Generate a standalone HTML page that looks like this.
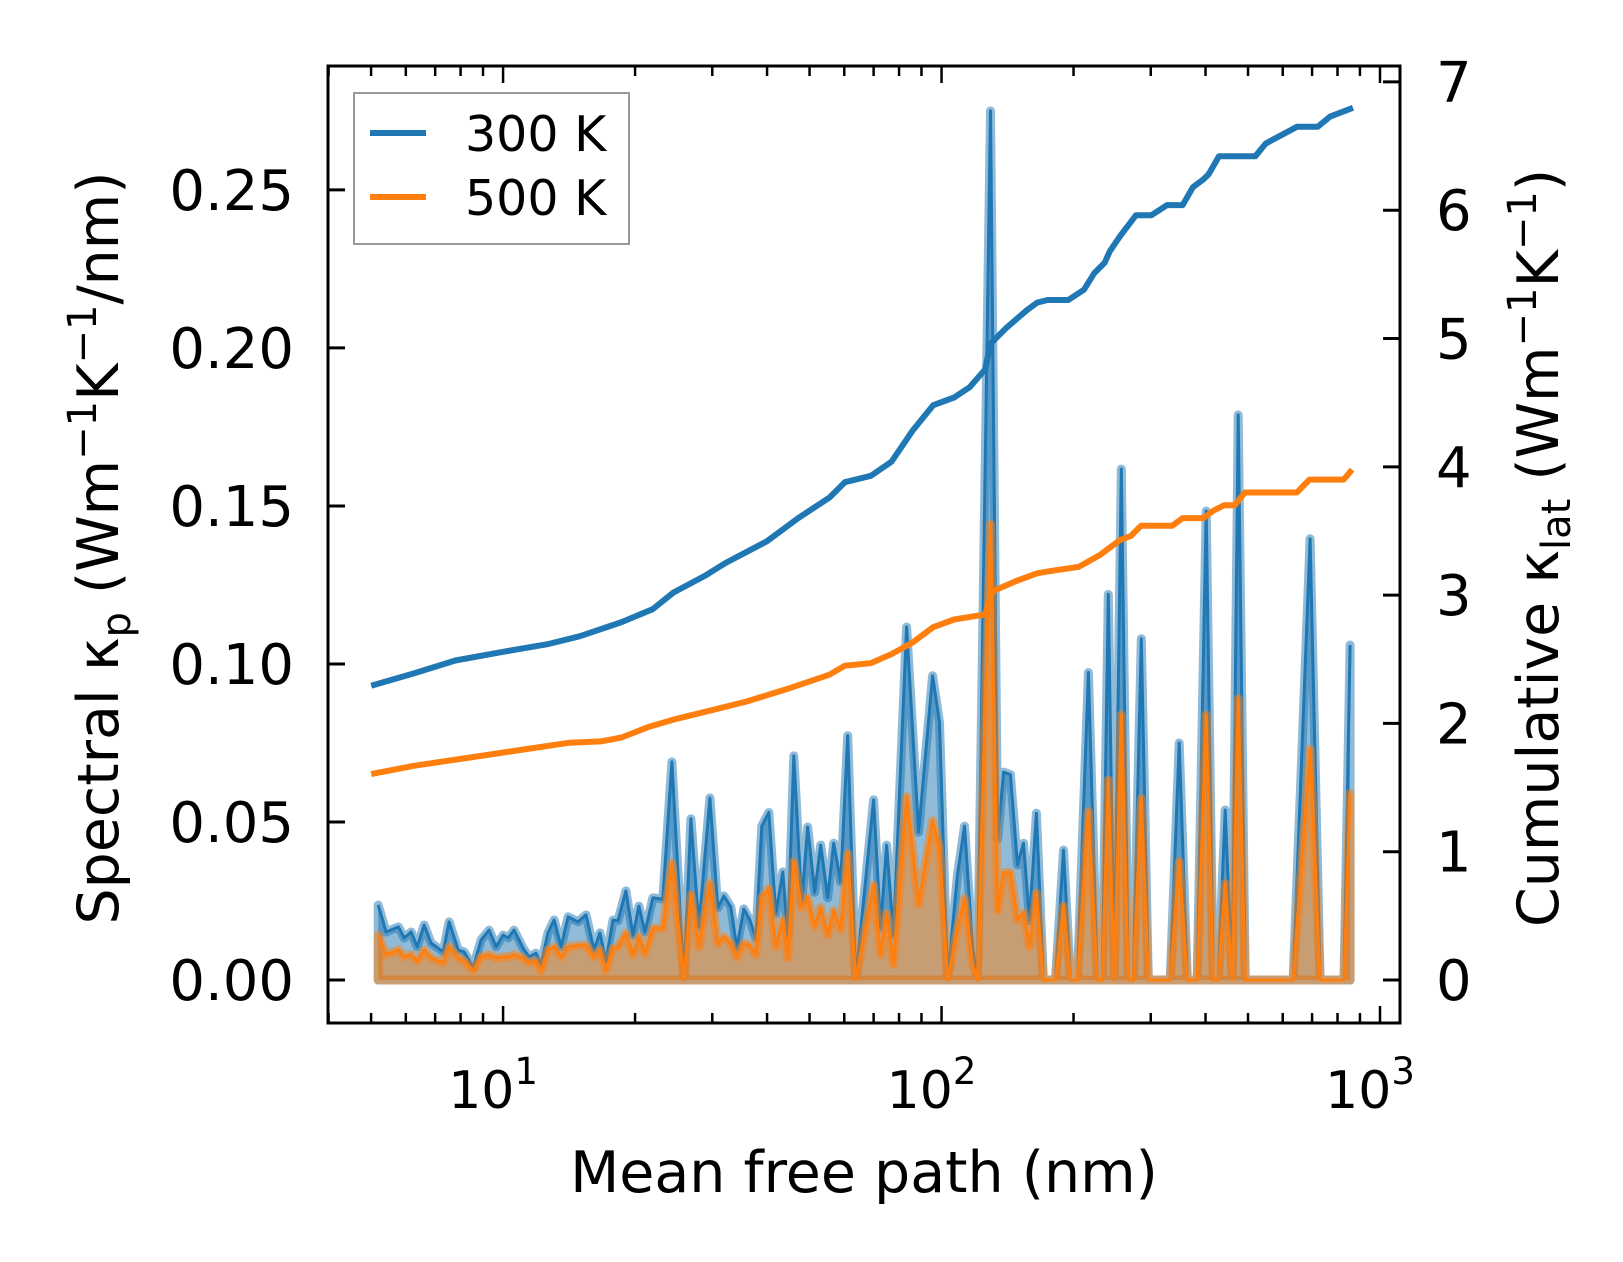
<!DOCTYPE html>
<html><head><meta charset="utf-8"><style>
html,body{margin:0;padding:0;background:#fff;}
svg{display:block;font-family:"DejaVu Sans","Liberation Sans",sans-serif;}
</style></head><body>
<svg id="chart" width="1623" height="1262" viewBox="0 0 1623 1262" xmlns="http://www.w3.org/2000/svg">
<rect width="1623" height="1262" fill="#fff"/>
<g id="plot"></g>
<g id="axes"></g>
</svg>
<script>
// ---- data ----
const specMfp = [5.19,5.41,5.77,5.95,6.17,6.37,6.61,6.85,7.30,7.53,7.90,8.15,8.55,8.91,9.29,9.64,10.0,10.27,10.59,11.10,11.46,11.89,12.21,12.66,13.07,13.56,14.07,14.82,15.46,16.12,16.63,17.17,17.81,18.28,19.06,19.78,20.41,21.06,21.96,23.14,24.27,25.84,26.81,27.96,29.62,30.89,31.88,33.07,34.12,35.40,36.53,37.70,38.90,40.36,41.88,43.44,44.60,46.03,47.99,49.52,51.37,53.02,55.0,56.75,58.88,61.08,63.70,69.99,72.61,74.93,77.72,83.23,88.64,95.39,98.95,103.2,108.7,112.8,117.7,120.8,129.3,134.2,138.5,143.6,149.0,153.8,158.7,164.6,170.7,181.9,189.7,196.8,204.1,216.2,226.6,232.6,240.1,247.8,257.0,266.7,273.8,285.5,296.2,332.3,348.4,363.4,382.9,401.4,416.4,427.5,443.6,460.2,474.9,492.7,633.6,692.7,730.0,773.4,827.9,854.5];
const spec300 = [0.0237,0.0152,0.0168,0.0133,0.0152,0.0105,0.0174,0.0117,0.0089,0.0184,0.0095,0.0089,0.004,0.0127,0.0158,0.0105,0.0142,0.0133,0.0158,0.0101,0.0073,0.0085,0.005,0.0149,0.019,0.0105,0.020,0.0184,0.0206,0.0095,0.0149,0.006,0.019,0.0187,0.0282,0.0142,0.0234,0.0152,0.026,0.0256,0.069,0.0,0.051,0.0168,0.0576,0.0228,0.0266,0.0231,0.0101,0.0225,0.019,0.0133,0.0487,0.053,0.021,0.0342,0.0136,0.0709,0.0244,0.0484,0.0278,0.0427,0.026,0.0433,0.031,0.0773,0.0,0.057,0.0165,0.0427,0.0142,0.1117,0.0468,0.0963,0.0815,0.0,0.033,0.0487,0.0104,0.0,0.275,0.0446,0.0658,0.065,0.0364,0.0433,0.0188,0.0528,0.0,0.0,0.0411,0.0,0.0,0.0973,0.0,0.0,0.122,0.0,0.1617,0.0,0.0,0.108,0.0,0.0,0.075,0.0,0.0,0.1484,0.0,0.0,0.0538,0.0,0.1788,0.0,0.0,0.1396,0.0,0.0,0.0,0.106];
const spec500 = [0.0142,0.008,0.0095,0.0073,0.008,0.006,0.0095,0.007,0.0055,0.0105,0.007,0.006,0.003,0.0073,0.008,0.007,0.0073,0.0073,0.008,0.007,0.0055,0.006,0.003,0.0095,0.0105,0.0073,0.0105,0.011,0.011,0.0073,0.0095,0.003,0.010,0.0105,0.0148,0.008,0.0137,0.0085,0.0164,0.0164,0.037,0.0,0.027,0.0105,0.0307,0.0116,0.0137,0.0116,0.0073,0.0116,0.011,0.008,0.026,0.029,0.0105,0.019,0.007,0.0374,0.023,0.026,0.017,0.023,0.0142,0.022,0.016,0.040,0.0,0.030,0.008,0.021,0.005,0.058,0.024,0.0504,0.042,0.0,0.016,0.0258,0.005,0.0,0.1443,0.022,0.034,0.034,0.019,0.0213,0.0106,0.0275,0.0,0.0,0.0234,0.0,0.0,0.0533,0.0,0.0,0.0633,0.0,0.0839,0.0,0.0,0.0574,0.0,0.0,0.0375,0.0,0.0,0.0839,0.0,0.0,0.0305,0.0,0.089,0.0,0.0,0.073,0.0,0.0,0.0,0.059];
const cumMfp300 = [5.08,6.26,7.78,9.68,12.72,14.97,18.63,21.94,24.47,28.83,32.15,39.99,47.1,55.5,60.2,69.0,76.9,85.8,95.7,106.8,115.9,125.8,129.3,140.3,156.4,165.2,174.5,194.6,211.2,223.0,235.5,242.0,255.6,277.5,301.1,326.8,354.7,374.6,395.6,406.5,429.3,519.5,548.7,646.3,720.9,769.6,855];
const cum300 = [2.30,2.39,2.49,2.55,2.62,2.68,2.79,2.89,3.02,3.15,3.25,3.42,3.60,3.76,3.88,3.93,4.04,4.28,4.48,4.54,4.62,4.76,4.96,5.08,5.22,5.28,5.30,5.30,5.38,5.51,5.59,5.68,5.80,5.96,5.96,6.04,6.04,6.18,6.24,6.28,6.42,6.42,6.52,6.65,6.65,6.73,6.79];
const cumMfp500 = [5.08,6.26,8.22,10.8,14.18,16.7,18.63,21.35,24.47,28.83,35.85,44.6,55.5,60.2,69.0,76.9,85.8,95.7,106.8,125.8,130.7,148.1,165.2,179.3,205.5,229.2,255.6,270.0,285.1,335.8,354.7,395.6,417.8,441.1,465.8,491.9,646.3,690.1,826.3,855];
const cum500 = [1.61,1.67,1.73,1.79,1.85,1.86,1.89,1.97,2.03,2.09,2.17,2.27,2.38,2.45,2.47,2.54,2.63,2.75,2.81,2.85,3.03,3.11,3.17,3.19,3.22,3.31,3.43,3.46,3.54,3.54,3.60,3.60,3.66,3.70,3.70,3.80,3.80,3.90,3.90,3.96];
const leftTicks = [0.00,0.05,0.10,0.15,0.20,0.25];
const leftTickLabels = ["0.00","0.05","0.10","0.15","0.20","0.25"];
const rightTicks = [0,1,2,3,4,5,6,7];
const xDecades = [1,2,3];

// ---- scales ----
const L=328,R=1400,T=66,B=1023;
const xLogMin=0.6007, xLogMax=3.0456;
function xs(v){return L+(Math.log10(v)-xLogMin)/(xLogMax-xLogMin)*(R-L);}
const yLmin=-0.0136,yLmax=0.2892;
function yl(v){return B-(v-yLmin)/(yLmax-yLmin)*(B-T);}
const yRmin=-0.335,yRmax=7.124;
function yr(v){return B-(v-yRmin)/(yRmax-yRmin)*(B-T);}

const NS="http://www.w3.org/2000/svg";
const plot=document.getElementById('plot'), axes=document.getElementById('axes');
function mk(tag,attrs,parent){const e=document.createElementNS(NS,tag);for(const k in attrs)e.setAttribute(k,attrs[k]);parent.appendChild(e);return e;}

const C0="#1f77b4",C1="#ff7f0e";
function spectral(vals,color,name){
  let line="";
  specMfp.forEach((m,i)=>{line+=(i?"L":"M")+xs(m).toFixed(1)+","+yl(vals[i]).toFixed(1);});
  const area=line+"L"+xs(specMfp[specMfp.length-1]).toFixed(1)+","+yl(0)+"L"+xs(specMfp[0]).toFixed(1)+","+yl(0)+"Z";
  const f=mk('path',{d:area,fill:color,'fill-opacity':0.5,stroke:color,'stroke-opacity':0.5,'stroke-width':9,'stroke-linejoin':'round'},plot);
  
  
  const l=mk('path',{d:line,fill:'none',stroke:color,'stroke-width':3,'stroke-linejoin':'round'},plot);
  
  
}
spectral(spec300,C0,'spectral-300k');
spectral(spec500,C1,'spectral-500k');

function cum(mfp,vals,color,name){
  let d="";
  mfp.forEach((m,i)=>{d+=(i?"L":"M")+xs(m).toFixed(1)+","+yr(vals[i]).toFixed(1);});
  const p=mk('path',{d:d,fill:'none',stroke:color,'stroke-width':6,'stroke-linejoin':'round','stroke-linecap':'square'},plot);
  
  
}
cum(cumMfp300,cum300,C0,'cumulative-300k');
cum(cumMfp500,cum500,C1,'cumulative-500k');

// spines
const frame=mk('rect',{x:L,y:T,width:R-L,height:B-T,fill:'none',stroke:'#000','stroke-width':3},axes);



// left ticks
leftTicks.forEach((v,i)=>{
  const y=yl(v);
  mk('line',{x1:L,x2:L+17,y1:y,y2:y,stroke:'#000','stroke-width':3},axes);
  const t=mk('text',{x:L-34,y:y+20,'text-anchor':'end','font-size':56},axes);
  t.textContent=leftTickLabels[i];
  
  
});
// right ticks
rightTicks.forEach(v=>{
  const y=yr(v);
  mk('line',{x1:R-17,x2:R,y1:y,y2:y,stroke:'#000','stroke-width':3},axes);
  const t=mk('text',{x:R+36,y:y+20,'text-anchor':'start','font-size':56},axes);
  t.textContent=String(v);
  
  
});
// x ticks (log)
for(let d=0; d<=3; d++){
  for(let k=1;k<10;k++){
    const v=k*Math.pow(10,d);
    const lv=Math.log10(v);
    if(lv<xLogMin||lv>xLogMax) continue;
    const x=xs(v), len=(k===1)?17:10;
    mk('line',{x1:x,x2:x,y1:B,y2:B-len,stroke:'#000','stroke-width':2.5},axes);
    mk('line',{x1:x,x2:x,y1:T,y2:T+len,stroke:'#000','stroke-width':2.5},axes);
  }
}
xDecades.forEach(p=>{
  const x=xs(Math.pow(10,p));
  const t=mk('text',{x:x-10,y:1108,'text-anchor':'middle','font-size':52},axes);
  t.textContent="10";
  const s=mk('tspan',{dy:-24,'font-size':37},t);
  s.textContent=String(p);
  
  
});
</script>
<svg style="position:absolute;left:0;top:0" width="1623" height="1262" xmlns="http://www.w3.org/2000/svg">
<g><text x="864" y="1192" text-anchor="middle" font-size="57" font-family="DejaVu Sans, Liberation Sans, sans-serif">Mean free path (nm)</text></g>
<g><text transform="translate(118,548) rotate(-90)" text-anchor="middle" font-size="57" font-family="DejaVu Sans, Liberation Sans, sans-serif">Spectral κ<tspan font-size="40" dy="12">p</tspan><tspan dy="-12"> (Wm</tspan><tspan font-size="40" dy="-22">−1</tspan><tspan dy="22">K</tspan><tspan font-size="40" dy="-22">−1</tspan><tspan dy="22">/nm)</tspan></text></g>
<g><text transform="translate(1558,548) rotate(-90)" text-anchor="middle" font-size="57" font-family="DejaVu Sans, Liberation Sans, sans-serif">Cumulative κ<tspan font-size="40" dy="12">lat</tspan><tspan dy="-12"> (Wm</tspan><tspan font-size="40" dy="-22">−1</tspan><tspan dy="22">K</tspan><tspan font-size="40" dy="-22">−1</tspan><tspan dy="22">)</tspan></text></g>
<g>
<rect x="354" y="93" width="275" height="151" fill="#fff" fill-opacity="0.8" stroke="#999" stroke-width="2"/>
<line x1="370" x2="426" y1="133" y2="133" stroke="#1f77b4" stroke-width="6"/>
<text x="465" y="151" font-size="49" font-family="DejaVu Sans, Liberation Sans, sans-serif">300 K</text>
<line x1="370" x2="426" y1="197" y2="197" stroke="#ff7f0e" stroke-width="6"/>
<text x="465" y="215" font-size="49" font-family="DejaVu Sans, Liberation Sans, sans-serif">500 K</text>
</g>
</svg>
</body></html>
